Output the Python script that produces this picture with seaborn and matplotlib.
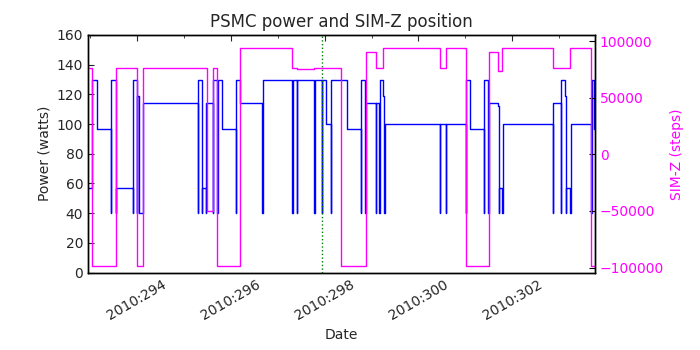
import matplotlib
matplotlib.use("Agg")
import matplotlib.pyplot as plt
from matplotlib.ticker import MultipleLocator, FuncFormatter
import seaborn as sns
import pandas as pd

# ---- data (day-of-year 2010) ----
power_t = [292.963, 293.040, 293.161, 293.453, 293.458, 293.553, 293.558, 293.915, 293.920,
           294.000, 294.005, 294.045, 294.141, 295.305, 295.315, 295.384, 295.392, 295.469,
           295.477, 295.618, 295.628, 295.718, 295.724, 295.810, 296.108, 296.118, 296.200,
           296.675, 296.685, 297.313, 297.318, 297.407, 297.412, 297.782, 297.788, 297.940,
           297.946, 298.025, 298.138, 298.145, 298.472, 298.770, 298.777, 298.868, 298.875,
           299.089, 299.096, 299.170, 299.180, 299.251, 299.270, 299.285, 300.459, 300.465,
           300.580, 300.586, 301.006, 301.015, 301.098, 301.396, 301.405, 301.487, 301.495,
           301.700, 301.715, 301.722, 301.785, 301.800, 302.859, 302.866, 303.029, 303.040,
           303.121, 303.140, 303.150, 303.227, 303.240, 303.674, 303.700, 303.745, 303.759]
power_w = [57, 130, 97, 40, 130, 40, 57, 40, 130,
           40, 119, 40, 114.5, 40, 130, 40, 57, 40,
           114.5, 40, 130, 40, 130, 97, 40, 130, 114.5,
           40, 130, 40, 130, 40, 130, 40, 130, 40,
           130, 100, 40, 130, 97, 40, 130, 40, 114.5,
           40, 114.5, 40, 130, 119, 40, 100, 40, 100,
           40, 100, 40, 130, 97, 40, 130, 40, 114.5,
           112, 40, 57, 40, 100, 40, 114.5, 40, 130,
           119, 40, 57, 40, 100, 40, 130, 97, 97]

simz_t = [292.963, 293.040, 293.553, 294.017, 294.141, 295.491, 295.631, 295.717, 296.200,
          297.313, 297.407, 297.782, 298.340, 298.878, 299.089, 299.255, 300.459, 300.580,
          301.006, 301.502, 301.700, 301.785, 302.859, 303.227, 303.674, 303.759]
simz_steps = [76500, -98700, 76500, -98700, 76500, -49800, 76500, -98700, 93500,
              76500, 75000, 76500, -98700, 90500, 76500, 93500, 76500, 93500,
              -98700, 90500, 74000, 93500, 76500, 93500, -98700, -98700]

marker_day = 297.95
x_ticks_major = [294, 296, 298, 300, 302]

df_p = pd.DataFrame({"day": power_t, "power": power_w})
df_z = pd.DataFrame({"day": simz_t, "simz": simz_steps})

sns.set_style("white")
plt.rcParams["font.family"] = ["DejaVu Sans"]
plt.rcParams["xtick.direction"] = "in"
plt.rcParams["ytick.direction"] = "in"

fig = plt.figure(figsize=(7, 3.5), dpi=100)
ax = fig.add_axes([88 / 700, 1 - 272.5 / 350, (595 - 88) / 700, (272.5 - 35) / 350])
sns.lineplot(data=df_p, x="day", y="power", ax=ax, color="#0000ff", lw=1.0,
             drawstyle="steps-post", estimator=None)
ax.axvline(marker_day, color="green", ls=":", lw=1.0)
ax.set_xlim(292.963, 303.759)
ax.set_ylim(0, 160)
ax.yaxis.set_major_locator(MultipleLocator(20))
ax.xaxis.set_major_locator(MultipleLocator(2))
ax.xaxis.set_minor_locator(MultipleLocator(1))
ax.xaxis.set_major_formatter(FuncFormatter(lambda v, p: "2010:%03d" % int(round(v))))
ax.tick_params(axis="x", which="major", length=4, top=True, labelsize=10, rotation=30)
ax.tick_params(axis="x", which="minor", length=2, top=True)
ax.tick_params(axis="y", length=4, labelsize=10, right=False)
ax.set_xlabel("Date", fontsize=10)
ax.set_ylabel("Power (watts)", fontsize=10)
ax.set_title("PSMC power and SIM-Z position", fontsize=12)
for s in ax.spines.values():
    s.set_color("black")
    s.set_linewidth(1.0)

ax2 = ax.twinx()
sns.lineplot(data=df_z, x="day", y="simz", ax=ax2, color="#ff00ff", lw=1.0,
             drawstyle="steps-post", estimator=None)
ax2.set_xlim(292.963, 303.759)
ax2.set_ylim(-104400, 105400)
ax2.yaxis.set_major_locator(MultipleLocator(50000))
ax2.tick_params(axis="y", length=4, labelsize=10, colors="#ff00ff", labelcolor="#ff00ff")
ax2.tick_params(axis="y", color="black")
ax2.set_ylabel("SIM-Z (steps)", fontsize=10, color="#ff00ff")
for s in ax2.spines.values():
    s.set_color("black")
    s.set_linewidth(1.0)

fig.savefig("out.png", dpi=100)
